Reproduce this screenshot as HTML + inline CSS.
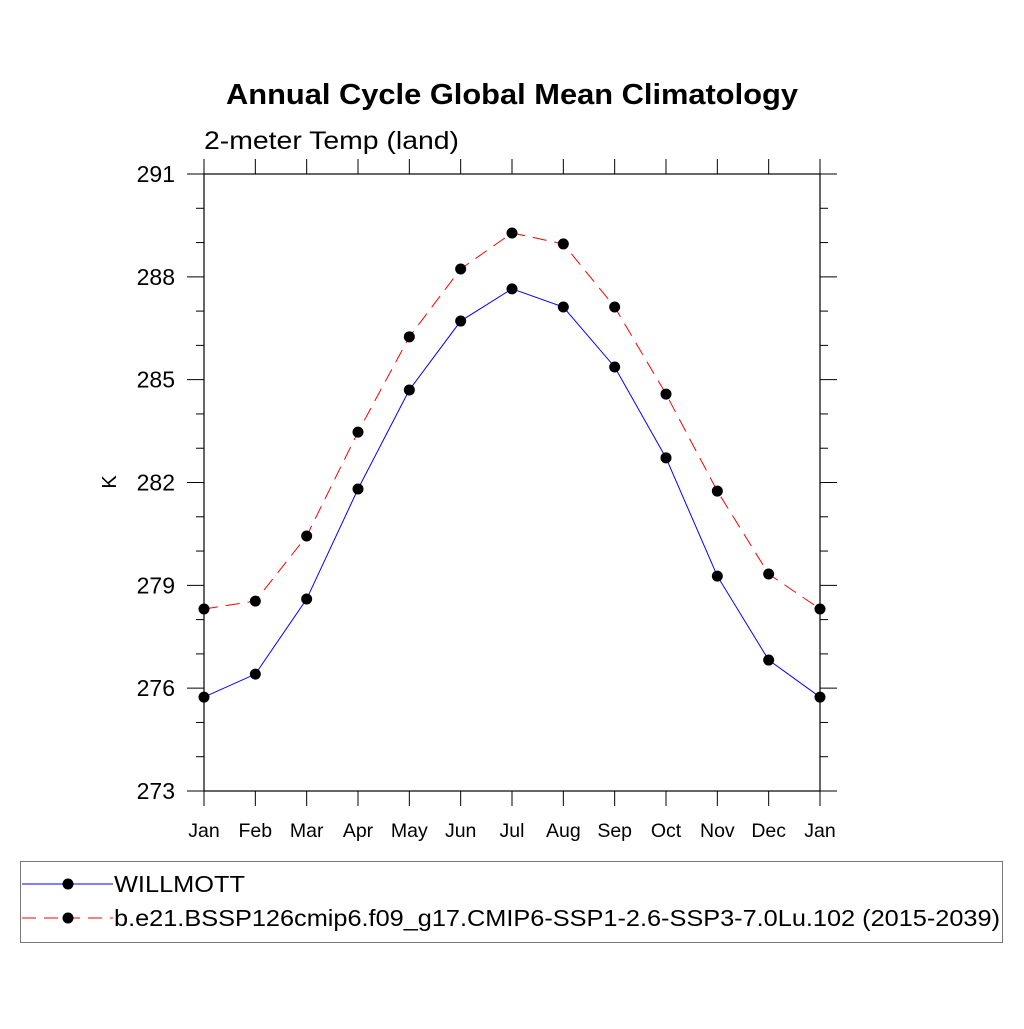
<!DOCTYPE html>
<html><head><meta charset="utf-8"><style>
body{margin:0;background:#fff;}
svg text{font-family:"Liberation Sans",sans-serif;}
</style></head><body>
<svg id="chart" width="1024" height="1024" xmlns="http://www.w3.org/2000/svg">
<rect width="1024" height="1024" fill="#fff"/>
<text x="226" y="104" font-size="29" font-weight="bold" textLength="572" lengthAdjust="spacingAndGlyphs">Annual Cycle Global Mean Climatology</text>
<text x="204" y="149" font-size="25" textLength="255" lengthAdjust="spacingAndGlyphs">2-meter Temp (land)</text>
<text transform="translate(116,482) rotate(-90)" font-size="20" text-anchor="middle">K</text>
<g id="axes"></g>
<g id="series"></g>
<g>
<rect x="20.5" y="861.5" width="982" height="81" fill="none" stroke="#777" stroke-width="1"/>
<line x1="22" y1="884" x2="113" y2="884" stroke="#0000ff" stroke-width="1"/>
<circle cx="68" cy="884" r="5.5" fill="#000"/>
<text x="114" y="892" font-size="23" textLength="131" lengthAdjust="spacingAndGlyphs">WILLMOTT</text>
<line x1="22" y1="918" x2="113" y2="918" stroke="#ff0000" stroke-width="1" stroke-dasharray="14,8"/>
<circle cx="68" cy="918" r="5.5" fill="#000"/>
<text x="114" y="926" font-size="23" textLength="886" lengthAdjust="spacingAndGlyphs">b.e21.BSSP126cmip6.f09_g17.CMIP6-SSP1-2.6-SSP3-7.0Lu.102 (2015-2039)</text>
</g>
</svg>
<script>
const months = ["Jan","Feb","Mar","Apr","May","Jun","Jul","Aug","Sep","Oct","Nov","Dec","Jan"];
const willmott = [275.74,276.41,278.60,281.81,284.70,286.71,287.65,287.12,285.37,282.72,279.27,276.82,275.74];
const model = [278.31,278.54,280.44,283.47,286.25,288.23,289.28,288.96,287.12,284.58,281.75,279.33,278.31];
const yTicks = [273,276,279,282,285,288,291];
const L=204,R=820,T=174,B=791,yMin=273,yMax=291;
const xs=i=>L+(R-L)*i/(months.length-1);
const ys=v=>B-(B-T)*(v-yMin)/(yMax-yMin);
const NS="http://www.w3.org/2000/svg";
function mk(tag,attrs,parent){const e=document.createElementNS(NS,tag);for(const k in attrs)e.setAttribute(k,attrs[k]);parent.appendChild(e);return e;}
const ax=document.getElementById('axes');
const frame=mk('rect',{x:L,y:T,width:R-L,height:B-T,fill:'none',stroke:'#000','stroke-width':1.2},ax);


months.forEach((m,i)=>{
  const x=xs(i);
  mk('line',{x1:x,y1:B,x2:x,y2:B+15,stroke:'#000'},ax);
  mk('line',{x1:x,y1:T,x2:x,y2:T-15,stroke:'#000'},ax);
  const t=mk('text',{x:x,y:B+46,'font-size':19.5,'text-anchor':'middle'},ax);
  t.textContent=m;
  
  
});
for(let v=yMin;v<=yMax;v++){
  const y=ys(v),maj=(v-yMin)%3===0,len=maj?17:8;
  mk('line',{x1:L,y1:y,x2:L-len,y2:y,stroke:'#000'},ax);
  mk('line',{x1:R,y1:y,x2:R+len,y2:y,stroke:'#000'},ax);
}
yTicks.forEach(v=>{
  const t=mk('text',{x:175,y:ys(v)+8,'font-size':23,'text-anchor':'end'},ax);
  t.textContent=v;
  
  
});
const sg=document.getElementById('series');
function series(vals,color,dash,name){
  const g=mk('g',{},sg);
  
  
  const p=mk('polyline',{points:vals.map((v,i)=>xs(i)+','+ys(v)).join(' '),fill:'none',stroke:color,'stroke-width':1,'stroke-dasharray':dash},g);
  
  
  vals.forEach((v,i)=>{
    const c=mk('circle',{cx:xs(i),cy:ys(v),r:5.5,fill:'#000'},g);
    
    
  });
}
series(willmott,'#0000ff','none','willmott-series');
series(model,'#ff0000','14,8','model-series');
</script>
</body></html>
